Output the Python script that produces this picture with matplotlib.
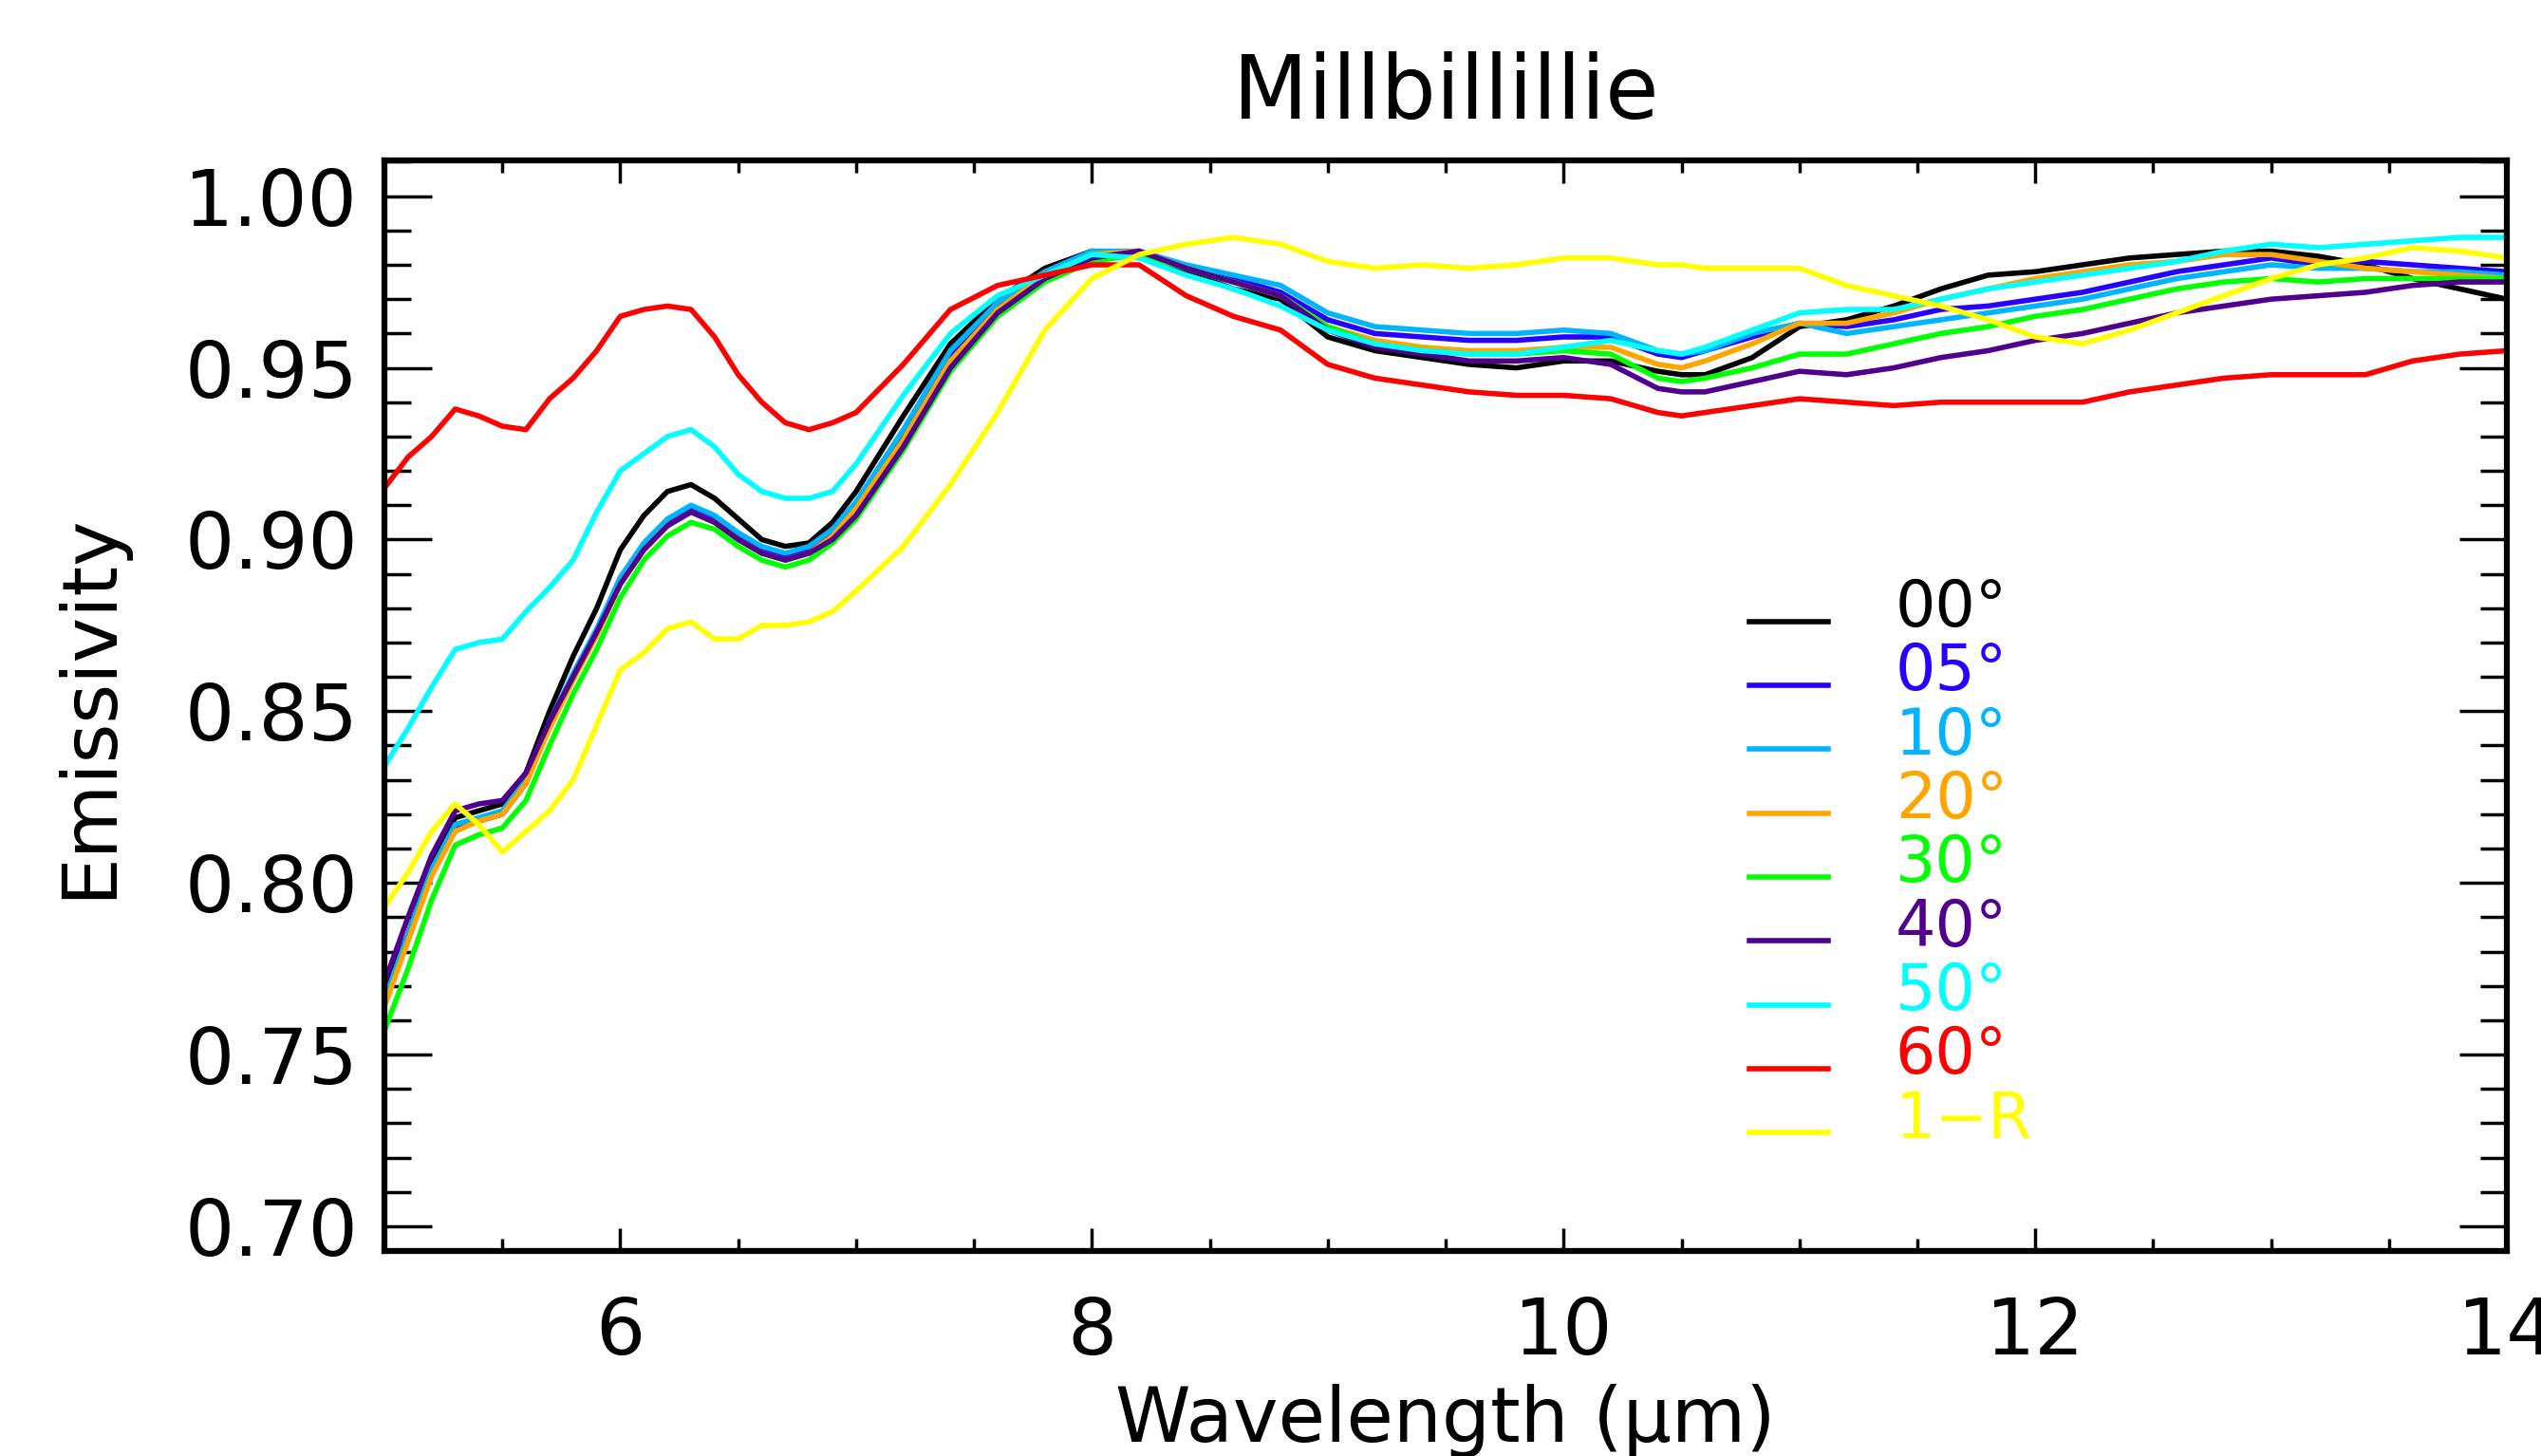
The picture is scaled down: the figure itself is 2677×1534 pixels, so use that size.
import matplotlib
matplotlib.use('Agg')
import matplotlib.pyplot as plt
from matplotlib.legend_handler import HandlerLine2D
from matplotlib.ticker import MultipleLocator, FormatStrFormatter


wavelength = [5.0, 5.1, 5.2, 5.3, 5.4, 5.5, 5.6, 5.7, 5.8, 5.9,
              6.0, 6.1, 6.2, 6.3, 6.4, 6.5, 6.6, 6.7, 6.8, 6.9,
              7.0, 7.2, 7.4, 7.6, 7.8, 8.0, 8.2, 8.4, 8.6, 8.8,
              9.0, 9.2, 9.4, 9.6, 9.8, 10.0, 10.2, 10.4, 10.5, 10.6,
              10.8, 11.0, 11.2, 11.4, 11.6, 11.8, 12.0, 12.2, 12.4, 12.6,
              12.8, 13.0, 13.2, 13.4, 13.6, 13.8, 14.0]

e00 = [0.769, 0.785, 0.805, 0.819, 0.821, 0.823, 0.832, 0.850, 0.866, 0.880,
       0.897, 0.907, 0.914, 0.916, 0.912, 0.906, 0.900, 0.898, 0.899, 0.905,
       0.914, 0.936, 0.957, 0.970, 0.979, 0.984, 0.983, 0.978, 0.973, 0.970,
       0.959, 0.955, 0.953, 0.951, 0.950, 0.952, 0.952, 0.949, 0.948, 0.948,
       0.953, 0.962, 0.964, 0.968, 0.973, 0.977, 0.978, 0.980, 0.982, 0.983,
       0.984, 0.984, 0.9825, 0.980, 0.976, 0.973, 0.970]

e05 = [0.765, 0.784, 0.803, 0.816, 0.818, 0.820, 0.829, 0.846, 0.860, 0.873,
       0.888, 0.898, 0.905, 0.909, 0.906, 0.901, 0.897, 0.895, 0.897, 0.902,
       0.910, 0.930, 0.953, 0.968, 0.977, 0.983, 0.984, 0.979, 0.976, 0.972,
       0.964, 0.960, 0.959, 0.958, 0.958, 0.959, 0.959, 0.954, 0.953, 0.955,
       0.959, 0.963, 0.962, 0.964, 0.967, 0.968, 0.970, 0.972, 0.975, 0.978,
       0.980, 0.982, 0.980, 0.981, 0.980, 0.979, 0.978]

e10 = [0.766, 0.785, 0.804, 0.817, 0.819, 0.821, 0.830, 0.847, 0.861, 0.874,
       0.889, 0.899, 0.906, 0.910, 0.907, 0.902, 0.898, 0.896, 0.898, 0.903,
       0.911, 0.932, 0.955, 0.969, 0.978, 0.984, 0.984, 0.980, 0.977, 0.974,
       0.966, 0.962, 0.961, 0.960, 0.960, 0.961, 0.960, 0.955, 0.954, 0.955,
       0.960, 0.963, 0.960, 0.962, 0.964, 0.966, 0.968, 0.970, 0.973, 0.976,
       0.978, 0.980, 0.979, 0.979, 0.978, 0.978, 0.977]

e20 = [0.764, 0.783, 0.802, 0.815, 0.818, 0.820, 0.829, 0.845, 0.859, 0.872,
       0.887, 0.897, 0.904, 0.908, 0.905, 0.900, 0.896, 0.894, 0.896, 0.901,
       0.909, 0.929, 0.952, 0.967, 0.977, 0.983, 0.984, 0.979, 0.975, 0.971,
       0.962, 0.958, 0.956, 0.955, 0.955, 0.956, 0.956, 0.951, 0.950, 0.952,
       0.957, 0.963, 0.963, 0.966, 0.970, 0.973, 0.976, 0.978, 0.980, 0.981,
       0.983, 0.983, 0.981, 0.979, 0.978, 0.977, 0.976]

e30 = [0.757, 0.775, 0.795, 0.811, 0.814, 0.816, 0.824, 0.840, 0.855, 0.868,
       0.883, 0.894, 0.901, 0.905, 0.903, 0.898, 0.894, 0.892, 0.894, 0.899,
       0.906, 0.926, 0.949, 0.965, 0.975, 0.981, 0.983, 0.979, 0.975, 0.971,
       0.962, 0.957, 0.955, 0.954, 0.954, 0.955, 0.954, 0.947, 0.946, 0.947,
       0.950, 0.954, 0.954, 0.957, 0.960, 0.962, 0.965, 0.967, 0.970, 0.973,
       0.975, 0.976, 0.975, 0.976, 0.976, 0.976, 0.976]

e40 = [0.771, 0.790, 0.808, 0.821, 0.823, 0.824, 0.832, 0.847, 0.860, 0.873,
       0.887, 0.897, 0.904, 0.908, 0.905, 0.900, 0.896, 0.894, 0.896, 0.900,
       0.907, 0.927, 0.950, 0.966, 0.976, 0.982, 0.984, 0.979, 0.975, 0.971,
       0.961, 0.956, 0.954, 0.952, 0.952, 0.953, 0.951, 0.944, 0.943, 0.943,
       0.946, 0.949, 0.948, 0.950, 0.953, 0.955, 0.958, 0.960, 0.963, 0.966,
       0.968, 0.970, 0.971, 0.972, 0.974, 0.975, 0.975]

e50 = [0.834, 0.845, 0.857, 0.868, 0.870, 0.871, 0.879, 0.886, 0.894, 0.908,
       0.920, 0.925, 0.930, 0.932, 0.927, 0.919, 0.914, 0.912, 0.912, 0.914,
       0.922, 0.942, 0.960, 0.971, 0.977, 0.983, 0.982, 0.977, 0.973, 0.968,
       0.961, 0.957, 0.955, 0.954, 0.954, 0.956, 0.958, 0.955, 0.954, 0.956,
       0.961, 0.966, 0.967, 0.967, 0.970, 0.973, 0.975, 0.977, 0.979, 0.981,
       0.984, 0.986, 0.985, 0.986, 0.987, 0.988, 0.988]

e60 = [0.915, 0.924, 0.930, 0.938, 0.936, 0.933, 0.932, 0.941, 0.947, 0.955,
       0.965, 0.967, 0.968, 0.967, 0.959, 0.948, 0.940, 0.934, 0.932, 0.934,
       0.937, 0.951, 0.967, 0.974, 0.977, 0.980, 0.980, 0.971, 0.965, 0.961,
       0.951, 0.947, 0.945, 0.943, 0.942, 0.942, 0.941, 0.937, 0.936, 0.937,
       0.939, 0.941, 0.940, 0.939, 0.940, 0.940, 0.940, 0.940, 0.943, 0.945,
       0.947, 0.948, 0.948, 0.948, 0.952, 0.954, 0.955]

one_minus_r = [0.793, 0.803, 0.815, 0.823, 0.817, 0.809, 0.815, 0.821, 0.830, 0.846,
               0.862, 0.867, 0.874, 0.876, 0.871, 0.871, 0.875, 0.875, 0.876, 0.879,
               0.885, 0.898, 0.916, 0.937, 0.961, 0.976, 0.983, 0.986, 0.988, 0.986,
               0.981, 0.979, 0.980, 0.979, 0.980, 0.982, 0.982, 0.980, 0.980, 0.979,
               0.979, 0.979, 0.974, 0.971, 0.968, 0.964, 0.959, 0.957, 0.961, 0.966,
               0.971, 0.976, 0.980, 0.982, 0.985, 0.984, 0.982]

series = [e00, e05, e10, e20, e30, e40, e50, e60, one_minus_r]
labels = ['00°', '05°', '10°', '20°', '30°', '40°', '50°', '60°', '1−R']
colors = ['#000000', '#2800ff', '#00b4ff', '#ffa500', '#00ff00',
          '#50008c', '#00ffff', '#ff0000', '#ffff00']


class LowLine(HandlerLine2D):
    # the legend lines sit a little under their labels
    def create_artists(self, *args, **kwargs):
        artists = super().create_artists(*args, **kwargs)
        for a in artists:
            a.set_ydata(a.get_ydata() - 13)
        return artists


fig = plt.figure(figsize=(26.77, 15.34), dpi=100)
ax = fig.add_axes([0.1513, 0.1408, 0.8353, 0.749])

for values, label, color in zip(series, labels, colors):
    ax.plot(wavelength, values, color=color, lw=4, label=label)

ax.set_xlim(5, 14)
ax.set_ylim(0.6928, 1.0104)
ax.xaxis.set_minor_locator(MultipleLocator(0.5))
ax.yaxis.set_major_locator(MultipleLocator(0.05))
ax.yaxis.set_minor_locator(MultipleLocator(0.01))
ax.yaxis.set_major_formatter(FormatStrFormatter('%.2f'))
ax.set_xticks([6, 8, 10, 12, 14])

for side in ax.spines.values():
    side.set_linewidth(4.5)

ax.tick_params(axis='both', which='both', direction='in', top=True, right=True,
               width=2.5, labelsize=59)
ax.tick_params(axis='x', which='major', length=17, pad=34)
ax.tick_params(axis='x', which='minor', length=9.5)
ax.tick_params(axis='y', which='major', length=36, pad=20)
ax.tick_params(axis='y', which='minor', length=20)

ax.set_title('Millbillillie', fontsize=66, pad=32)
ax.set_xlabel('Wavelength (μm)', fontsize=58)
ax.xaxis.set_label_coords(0.5, -0.122)
ax.set_ylabel('Emissivity', fontsize=58)
ax.yaxis.set_label_coords(-0.139, 0.5)
ax.yaxis.label.set_va('center')

ax.legend(loc='upper left', bbox_to_anchor=(0.643, 0.618), frameon=False,
          fontsize=48, labelcolor='linecolor', handlelength=1.25,
          handletextpad=1.06, labelspacing=0.02, borderpad=0, borderaxespad=0,
          handler_map={plt.Line2D: LowLine()})

fig.savefig('out.png', dpi=100)
